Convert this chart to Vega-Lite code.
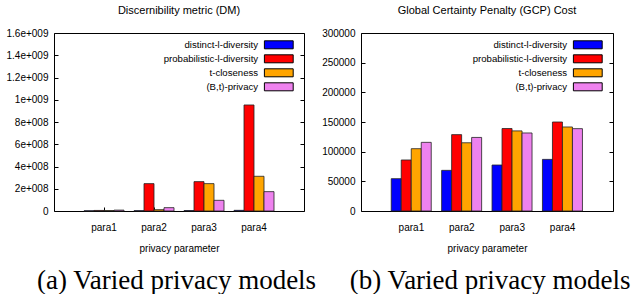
{
  "$schema": "https://vega.github.io/schema/vega-lite/v6.json",
  "padding": {"left": 5, "top": 4, "right": 3, "bottom": 0},
  "title": {"text": "(a) Varied privacy models\u00a0\u00a0\u00a0\u00a0\u00a0(b) Varied privacy models", "orient": "bottom", "anchor": "middle", "font": "Liberation Serif", "fontSize": 27, "fontWeight": "normal", "color": "#000", "offset": 14, "dx": 24},
  "datasets": {
    "dm": [
      {"param": "para1", "model": "distinct-l-diversity", "value": 2000000},
      {"param": "para1", "model": "probabilistic-l-diversity", "value": 5000000},
      {"param": "para1", "model": "t-closeness", "value": 4000000},
      {"param": "para1", "model": "(B,t)-privacy", "value": 8000000},
      {"param": "para2", "model": "distinct-l-diversity", "value": 3000000},
      {"param": "para2", "model": "probabilistic-l-diversity", "value": 246000000},
      {"param": "para2", "model": "t-closeness", "value": 12000000},
      {"param": "para2", "model": "(B,t)-privacy", "value": 30000000},
      {"param": "para3", "model": "distinct-l-diversity", "value": 4000000},
      {"param": "para3", "model": "probabilistic-l-diversity", "value": 264000000},
      {"param": "para3", "model": "t-closeness", "value": 246000000},
      {"param": "para3", "model": "(B,t)-privacy", "value": 96000000},
      {"param": "para4", "model": "distinct-l-diversity", "value": 6000000},
      {"param": "para4", "model": "probabilistic-l-diversity", "value": 953000000},
      {"param": "para4", "model": "t-closeness", "value": 312000000},
      {"param": "para4", "model": "(B,t)-privacy", "value": 174000000}
    ],
    "gcp": [
      {"param": "para1", "model": "distinct-l-diversity", "value": 54500},
      {"param": "para1", "model": "probabilistic-l-diversity", "value": 86000},
      {"param": "para1", "model": "t-closeness", "value": 105000},
      {"param": "para1", "model": "(B,t)-privacy", "value": 115700},
      {"param": "para2", "model": "distinct-l-diversity", "value": 68500},
      {"param": "para2", "model": "probabilistic-l-diversity", "value": 128700},
      {"param": "para2", "model": "t-closeness", "value": 115000},
      {"param": "para2", "model": "(B,t)-privacy", "value": 124000},
      {"param": "para3", "model": "distinct-l-diversity", "value": 77500},
      {"param": "para3", "model": "probabilistic-l-diversity", "value": 139000},
      {"param": "para3", "model": "t-closeness", "value": 135000},
      {"param": "para3", "model": "(B,t)-privacy", "value": 131500},
      {"param": "para4", "model": "distinct-l-diversity", "value": 87000},
      {"param": "para4", "model": "probabilistic-l-diversity", "value": 150000},
      {"param": "para4", "model": "t-closeness", "value": 141600},
      {"param": "para4", "model": "(B,t)-privacy", "value": 138800}
    ]
  },
  "spacing": 16,
  "hconcat": [
    {
      "title": {"text": "Discernibility metric (DM)"},
      "data": {"name": "dm"},
      "width": 250,
      "height": 178,
      "encoding": {
        "x": {"field": "param", "type": "nominal", "scale": {"paddingInner": 0.2, "paddingOuter": 0.6}, "axis": {"title": "privacy parameter", "labelAngle": 0}},
        "xOffset": {"field": "model", "type": "nominal", "sort": ["distinct-l-diversity", "probabilistic-l-diversity", "t-closeness", "(B,t)-privacy"], "scale": {"paddingInner": 0, "paddingOuter": 0}},
        "y": {"field": "value", "type": "quantitative", "scale": {"domain": [0, 1600000000], "nice": false}}
      },
      "layer": [
        {
          "mark": {"type": "bar", "stroke": "#222", "strokeWidth": 0.8},
          "encoding": {
            "y": {"field": "value", "type": "quantitative", "axis": {"title": null, "values": [0, 200000000, 400000000, 600000000, 800000000, 1000000000, 1200000000, 1400000000, 1600000000], "labelExpr": "datum.value == 0 ? '0' : replace(format(datum.value, '~e'), 'e+', 'e+00')"}},
            "color": {"field": "model", "type": "nominal", "sort": ["distinct-l-diversity", "probabilistic-l-diversity", "t-closeness", "(B,t)-privacy"], "scale": {"domain": ["distinct-l-diversity", "probabilistic-l-diversity", "t-closeness", "(B,t)-privacy"], "range": ["#0000ff", "#ff0000", "#ffa500", "#ee82ee"]}, "legend": {"orient": "none", "legendX": 220, "legendY": 7}}
          }
        },
        {
          "mark": {"type": "bar", "opacity": 0},
          "encoding": {
            "y": {"field": "value", "type": "quantitative", "axis": {"orient": "right", "title": null, "labels": false, "values": [0, 200000000, 400000000, 600000000, 800000000, 1000000000, 1200000000, 1400000000, 1600000000]}}
          }
        }
      ],
      "resolve": {"axis": {"y": "independent"}}
    },
    {
      "title": {"text": "Global Certainty Penalty (GCP) Cost"},
      "data": {"name": "gcp"},
      "width": 252,
      "height": 178,
      "encoding": {
        "x": {"field": "param", "type": "nominal", "scale": {"paddingInner": 0.2, "paddingOuter": 0.6}, "axis": {"title": "privacy parameter", "labelAngle": 0}},
        "xOffset": {"field": "model", "type": "nominal", "sort": ["distinct-l-diversity", "probabilistic-l-diversity", "t-closeness", "(B,t)-privacy"], "scale": {"paddingInner": 0, "paddingOuter": 0}},
        "y": {"field": "value", "type": "quantitative", "scale": {"domain": [0, 300000], "nice": false}}
      },
      "layer": [
        {
          "mark": {"type": "bar", "stroke": "#222", "strokeWidth": 0.8},
          "encoding": {
            "y": {"field": "value", "type": "quantitative", "axis": {"title": null, "values": [0, 50000, 100000, 150000, 200000, 250000, 300000], "format": "d"}},
            "color": {"field": "model", "type": "nominal", "sort": ["distinct-l-diversity", "probabilistic-l-diversity", "t-closeness", "(B,t)-privacy"], "scale": {"domain": ["distinct-l-diversity", "probabilistic-l-diversity", "t-closeness", "(B,t)-privacy"], "range": ["#0000ff", "#ff0000", "#ffa500", "#ee82ee"]}, "legend": {"orient": "none", "legendX": 222, "legendY": 7}}
          }
        },
        {
          "mark": {"type": "bar", "opacity": 0},
          "encoding": {
            "y": {"field": "value", "type": "quantitative", "axis": {"orient": "right", "title": null, "labels": false, "values": [0, 50000, 100000, 150000, 200000, 250000, 300000]}}
          }
        }
      ],
      "resolve": {"axis": {"y": "independent"}}
    }
  ],
  "resolve": {"scale": {"color": "independent"}},
  "config": {
    "font": "Liberation Sans",
    "view": {"stroke": "#000", "strokeWidth": 1},
    "title": {"fontSize": 11, "fontWeight": "normal", "color": "#000", "offset": 12, "anchor": "middle"},
    "axis": {"grid": false, "domain": false, "offset": -4, "tickSize": 4, "tickColor": "#000", "tickWidth": 1, "labelFontSize": 10, "labelColor": "#000", "titleFontSize": 10, "titleFontWeight": "normal", "titleColor": "#000", "labelPadding": 6, "titlePadding": 11},
    "axisX": {"labelPadding": 11},
    "legend": {"title": null, "labelFontSize": 9.6, "labelColor": "#000", "labelAlign": "right", "labelOffset": -25.5, "symbolType": "M-3.6,-1L3.6,-1L3.6,1L-3.6,1Z", "symbolSize": 64, "symbolStrokeColor": "#000", "symbolStrokeWidth": 1, "symbolOpacity": 1, "rowPadding": 1, "padding": 0}
  }
}
